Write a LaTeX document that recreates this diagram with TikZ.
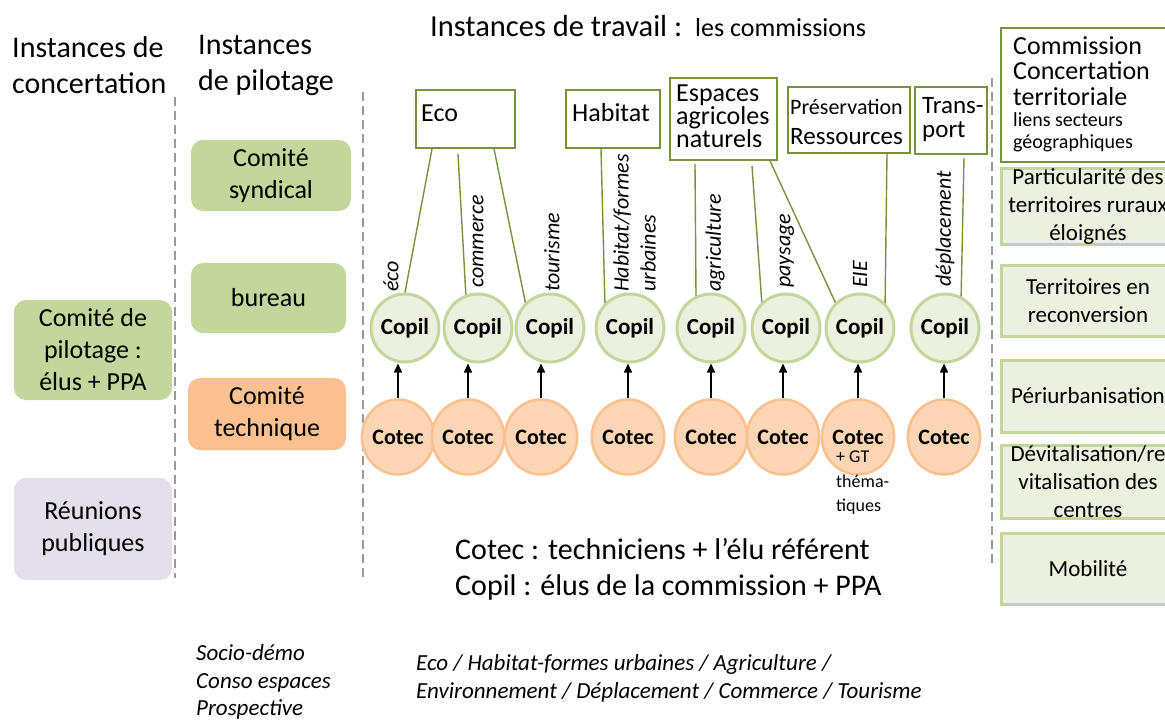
\documentclass[tikz,border=0pt]{standalone}
\usepackage{fontspec}
\setmainfont{Carlito}
\usetikzlibrary{shapes.geometric,arrows.meta,calc}
\definecolor{gbox}{HTML}{C3D69B}
\definecolor{lav}{HTML}{E5DFEC}
\definecolor{obox}{HTML}{FAC090}
\definecolor{lgreen}{HTML}{EBF1DE}
\definecolor{cotfill}{HTML}{FCD5B5}
\definecolor{olive}{HTML}{77933C}
\definecolor{dgray}{HTML}{9A9A9A}
\newcommand\myfs[2]{\fontsize{#1}{#2}\selectfont}
\begin{document}
\begin{tikzpicture}[x=1pt,y=-1pt,
  lbox/.style={rectangle, rounded corners=12pt, align=center, inner sep=0pt, font=\myfs{26}{32}},
  combox/.style={rectangle, draw=olive, line width=1.8pt, fill=white, inner sep=0pt},
  rbox/.style={rectangle, draw=gbox, line width=3pt, fill=lgreen, inner sep=0pt, minimum width=174pt, align=center, font=\myfs{23}{28}},
  copil/.style={circle, draw=gbox, line width=3pt, fill=lgreen, minimum size=68pt, inner sep=0pt, font=\bfseries\myfs{23}{26}},
  cotec/.style={ellipse, draw=obox, line width=2.5pt, fill=cotfill, minimum width=70pt, minimum height=75pt, inner sep=0pt, font=\bfseries\myfs{22}{26}},
  link/.style={draw=olive, line width=1.4pt},
  arr/.style={draw=black, line width=1.5pt, -{Triangle[length=9pt,width=8pt]}},
  sep/.style={draw=dgray, line width=1.5pt, dash pattern=on 9pt off 5pt},
  lbl/.style={font=\itshape\myfs{22}{27}, inner sep=0pt, rotate=90, anchor=west, align=left},
  txt/.style={inner sep=0pt, anchor=west, align=left}
]
\useasboundingbox (0,0) rectangle (1165,720);
\clip (0,0) rectangle (1165,720);

% headings
\node[txt, font=\myfs{30}{36}] (h1) at (12,65) {Instances de\\concertation};
\node[txt, font=\myfs{30}{36}] (h2) at (198,65) {Instances\\de pilotage};
\node[inner sep=0pt, anchor=base west, font=\myfs{30.5}{36}] (h3) at (430,36) {Instances de travail :};
\node[inner sep=0pt, anchor=base west, font=\myfs{26}{30}] (h4) at (695,36) {les commissions};

% separators
\draw[sep] (175,97) -- (175,578);
\draw[sep] (363,92) -- (363,578);
\draw[sep] (992,78) -- (992,568);

% left boxes
\node[lbox, fill=gbox, minimum width=158pt, minimum height=100pt] (cp) at (93,350) {Comité de\\pilotage :\\élus + PPA};
\node[lbox, fill=lav, minimum width=158pt, minimum height=102pt] (rp) at (93,529) {Réunions\\publiques};
\node[lbox, fill=gbox, minimum width=160pt, minimum height=71pt] (cs) at (271,175.5) {Comité\\syndical};
\node[lbox, fill=gbox, minimum width=155pt, minimum height=70pt] (bu) at (268.5,298) {bureau};
\node[lbox, fill=obox, minimum width=158pt, minimum height=72pt] (ct) at (267,414) {Comité\\technique};

% commission boxes
\node[combox, minimum width=99pt, minimum height=58pt] (eco) at (465.5,119) {};
\node[txt, font=\myfs{26}{30}] (ecot) at (421,113) {Eco};
\node[combox, minimum width=94pt, minimum height=58pt] (hab) at (613,119) {};
\node[txt, font=\myfs{26}{30}] (habt) at (572,113) {Habitat};
\node[combox, minimum width=107pt, minimum height=82pt] (esp) at (723.5,119) {};
\node[txt, font=\myfs{26}{22.5}] (espt) at (676,116.5) {Espaces\\agricoles\\naturels};
\node[combox, minimum width=122pt, minimum height=66pt] (pres) at (849,120) {};
\node[txt, font=\myfs{22}{26}] (prest1) at (790,107) {Préservation};
\node[txt, font=\myfs{25}{28}] (prest2) at (790,137) {Ressources};
\node[combox, minimum width=72pt, minimum height=67pt] (tra) at (951,120.5) {};
\node[txt, font=\myfs{25}{24}] (trat) at (922,119) {Trans-\\port};
\node[combox, minimum width=174pt, minimum height=134pt] (ccom) at (1088,95) {};
\node[txt, font=\myfs{26}{25.5}] (ccomt1) at (1013,71) {Commission\\Concertation\\territoriale};
\node[txt, font=\myfs{20}{22}] (ccomt2) at (1013,132) {liens secteurs\\géographiques};

% right boxes
\node[rbox, minimum height=73pt] (r1) at (1088,206.5) {Particularité des\\territoires ruraux\\éloignés};
\node[rbox, minimum height=71pt] (r2) at (1088,300.5) {Territoires en\\reconversion};
\node[rbox, minimum height=72pt] (r3) at (1088,396) {Périurbanisation};
\node[rbox, minimum height=73pt] (r4) at (1088,482) {Dévitalisation/re\\vitalisation des\\centres};
\node[rbox, minimum height=71pt] (r5) at (1088,568.5) {Mobilité};

% Copil
\node[copil] (p1) at (405,328) {Copil};
\node[copil] (p2) at (478,328) {Copil};
\node[copil] (p3) at (550,328) {Copil};
\node[copil] (p4) at (630,328) {Copil};
\node[copil] (p5) at (711,328) {Copil};
\node[copil] (p6) at (786,328) {Copil};
\node[copil] (p7) at (860,328) {Copil};
\node[copil] (p8) at (945,328) {Copil};

% Cotec
\node[cotec] (c1) at (398,437) {Cotec};
\node[cotec] (c2) at (468,437) {Cotec};
\node[cotec] (c3) at (541,437) {Cotec};
\node[cotec] (c4) at (628,437) {Cotec};
\node[cotec] (c5) at (711,437) {Cotec};
\node[cotec] (c6) at (783,437) {Cotec};
\node[cotec] (c7) at (858,437) {Cotec};
\node[cotec] (c8) at (944,437) {Cotec};
\node[txt, font=\myfs{18}{24.5}] (gt) at (836,483) {+ GT\\théma-\\tiques};

% arrows
\foreach \i in {1,...,8}{
  \draw[arr] (c\i.north) -- (c\i.north |- p\i.south);
}

% links
\draw[link] ($(eco.south)+(-33.5,0)$) -- (p1.90);
\draw[link] ($(eco.south)+(-7.5,5)$) -- (p2.110);
\draw[link] ($(eco.south)+(28.5,0)$) -- (p3.134);
\draw[link] ($(hab.south)+(-12,0)$) -- (p4.135);
\draw[link] ($(esp.south)+(-28.5,3)$) -- (p5.115);
\draw[link] ($(esp.south)+(28.5,5)$) -- (p6.133);
\draw[link] ($(esp.south)+(46.5,0)$) -- (p7.134);
\draw[link] ($(pres.south)+(38,0)$) -- (p7.45);
\draw[link] ($(tra.south)+(13,3)$) -- (p8.63);

% link labels
\node[lbl] (l1) at (391,292) {éco};
\node[lbl] (l2) at (478,288) {commerce};
\node[lbl] (l3) at (552,292) {tourisme};
\node[lbl] (l4) at (634.5,292) {Habitat/formes\\urbaines};
\node[lbl] (l5) at (715,292) {agriculture};
\node[lbl] (l6) at (787,288) {paysage};
\node[lbl] (l7) at (860,288) {EIE};
\node[lbl] (l8) at (945,287) {déplacement};

% legend
\node[txt, font=\myfs{30}{36}] (leg) at (455,569) {Cotec : techniciens + l’élu référent\\Copil : élus de la commission + PPA};
\node[txt, font=\itshape\myfs{23}{27.5}] (b1) at (196,682) {Socio-démo\\Conso espaces\\Prospective};
\node[txt, font=\itshape\myfs{23}{28}] (b2) at (416,678) {Eco / Habitat-formes urbaines / Agriculture /\\Environnement / Déplacement / Commerce / Tourisme};
\end{tikzpicture}
\end{document}
